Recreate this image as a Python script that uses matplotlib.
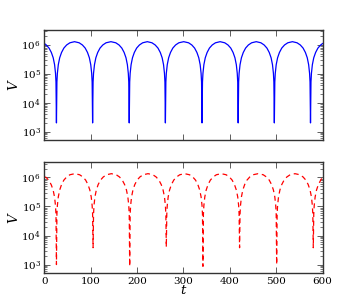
import matplotlib
matplotlib.use("Agg")
import matplotlib.pyplot as plt
import numpy as np

# ---- data ----
t_top = [0, 4, 10, 15, 19, 22, 24, 25, 26,
         27, 28, 30, 33, 37, 42, 48, 55, 65, 75, 82, 88, 93, 97, 100, 102, 103, 104,
         105, 106, 108, 111, 115, 120, 126, 133, 143.5, 154, 161, 167, 172, 176, 179, 181, 182, 183,
         184, 185, 187, 190, 194, 199, 205, 212, 222, 232, 239, 245, 250, 254, 257, 259, 260, 261,
         262, 263, 265, 268, 272, 277, 283, 290, 300.5, 311, 318, 324, 329, 333, 336, 338, 339, 340,
         341, 342, 344, 347, 351, 356, 362, 369, 379, 389, 396, 402, 407, 411, 414, 416, 417, 418,
         419, 420, 422, 425, 429, 434, 440, 447, 457, 467, 474, 480, 485, 489, 492, 494, 495, 496,
         497, 498, 500, 503, 507, 512, 518, 525, 535, 545, 552, 558, 563, 567, 570, 572, 573, 574,
         575, 576, 578, 581, 585, 590, 596, 600]
arch_top = [5.2e4, 1.04e5, 2.07e5, 3.6e5, 5.5e5, 7.8e5, 1.0e6, 1.19e6, 1.3e6,
            1.19e6, 1.0e6, 7.8e5, 5.5e5, 3.6e5, 2.07e5, 1.04e5, 5.2e4, 2e3]
V_top = ([1.12e6, 1.0e6, 7.8e5, 5.5e5, 3.6e5, 2.07e5, 1.04e5, 5.2e4, 2e3]
         + arch_top * 7
         + [5.2e4, 1.04e5, 2.07e5, 3.6e5, 5.5e5, 7.8e5, 1.0e6, 1.12e6])

t_bot = [0, 4, 10, 15, 19, 22, 24, 25, 26,
         27, 28, 30, 33, 37, 42, 48, 55, 65.5, 76, 83, 89, 94, 98, 101, 103, 104, 105,
         106, 107, 109, 112, 116, 121, 127, 134, 144.5, 155, 162, 168, 173, 177, 180, 182, 183, 184,
         185, 186, 188, 191, 195, 200, 206, 213, 223.5, 234, 241, 247, 252, 256, 259, 261, 262, 263,
         264, 265, 267, 270, 274, 279, 285, 292, 302.5, 313, 320, 326, 331, 335, 338, 340, 341, 342,
         343, 344, 346, 349, 353, 358, 364, 371, 381.5, 392, 399, 405, 410, 414, 417, 419, 420, 421,
         422, 423, 425, 428, 432, 437, 443, 450, 461, 472, 479, 485, 490, 494, 497, 499, 500, 501,
         502, 503, 505, 508, 512, 517, 523, 530, 540.5, 551, 558, 564, 569, 573, 576, 578, 579, 580,
         581, 582, 584, 587, 591, 596, 600]
rise_bot = [5.4e4, 1.08e5, 2.14e5, 3.7e5, 5.7e5, 8.1e5, 1.04e6, 1.24e6, 1.35e6]
fall_bot = [1.24e6, 1.04e6, 8.1e5, 5.7e5, 3.7e5, 2.14e5, 1.08e5, 5.4e4]
dip_bot = [1.0e3, 3.8e3, 0.87e3, 4.0e3, 0.87e3, 3.8e3, 1.0e3, 3.8e3]
V_bot = [1.05e6, 1.0e6, 7.8e5, 5.5e5, 3.6e5, 2.07e5, 1.04e5, 5.2e4, dip_bot[0]]
for k in range(1, 8):
    V_bot += rise_bot + fall_bot + [dip_bot[k]]
V_bot += [5.4e4, 1.08e5, 2.14e5, 3.7e5, 5.7e5, 8.1e5, 1.04e6]

x_ticks = [0, 100, 200, 300, 400, 500, 600]

# ---- style ----
plt.rcParams['font.family'] = ['DejaVu Serif']
plt.rcParams['mathtext.fontset'] = 'dejavuserif'

fig = plt.figure(figsize=(3.58, 3.03), dpi=100)
ax1 = fig.add_axes([0.124, 0.537, 0.777, 0.364])
ax2 = fig.add_axes([0.124, 0.098, 0.777, 0.366])

ax1.plot(t_top, V_top, color='blue', lw=0.9)
ax2.plot(t_bot, V_bot, color='red', lw=0.9, ls='--', dashes=(4, 3))

for ax in (ax1, ax2):
    ax.set_yscale('log')
    ax.set_xlim(0, 600)
    ax.set_ylim(5e2, 3.3e6)
    ax.set_xticks(x_ticks)
    ax.set_yticks([1e3, 1e4, 1e5, 1e6])
    ax.tick_params(which='both', direction='in', top=True, right=True, labelsize=7.5, pad=2.5)
    ax.tick_params(which='major', length=4, width=0.6, color='#444444')
    ax.tick_params(which='minor', length=2, width=0.5, color='#444444')
    for s in ax.spines.values():
        s.set_color('#333333')
        s.set_linewidth(1.0)
    ax.set_ylabel(r'$V$', fontsize=9.5)
    ax.yaxis.set_label_coords(-0.085, 0.5)

ax1.tick_params(labelbottom=False)
ax2.set_xlabel(r'$t$', fontsize=9.5, labelpad=-1)

fig.savefig('out.png', dpi=100)
